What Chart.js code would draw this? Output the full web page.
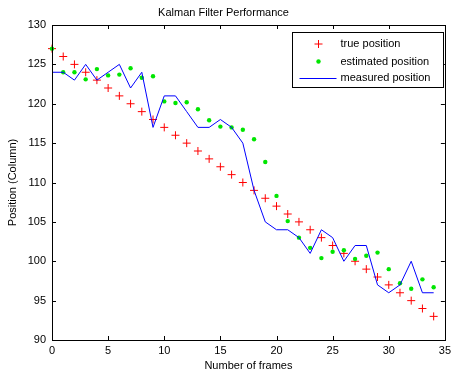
<!DOCTYPE html>
<html>
<head>
<meta charset="utf-8">
<script src="https://cdn.jsdelivr.net/npm/chart.js@4/dist/chart.umd.min.js"></script>
<style>
  html, body { margin: 0; padding: 0; background: #fff; }
  #wrap { width: 455px; height: 374px; }
</style>
</head>
<body>
<div id="wrap"><canvas id="c" width="455" height="374"></canvas></div>
<script>
// Frame index along the x axis
const frames = [0,1,2,3,4,5,6,7,8,9,10,11,12,13,14,15,16,17,18,19,20,21,22,23,24,25,26,27,28,29,30,31,32,33,34];
// Ground-truth column position per frame
const truePosition = [127,126,125,124,123,122,121,120,119,118,117,116,115,114,113,112,111,110,109,108,107,106,105,104,103,102,101,100,99,98,97,96,95,94,93];
// Kalman filter estimate per frame
const estimatedPosition = [127,124,124,123.1,124.4,123.6,123.7,124.5,123.3,123.5,120.3,120.1,120.2,119.3,117.9,117.1,117.0,116.7,115.5,112.6,108.3,105.1,103.0,101.7,100.4,101.2,101.4,100.3,100.7,101.1,99.0,97.2,96.5,97.7,96.7];
// Noisy measurement per frame
const measuredPosition = [124,124,123,125,123,124,125,122,124,117,121,121,119,117,117,118,117,115,109,105,104,104,103,101,104,103,100,102,102,97,96,97,100,96,96];
// Axis ticks
const xTicks = [0,5,10,15,20,25,30,35];
const yTicks = [90,95,100,105,110,115,120,125,130];

const FONT = 'Liberation Sans, Arial, Helvetica, sans-serif';
const pts = (ys) => frames.map((x, i) => ({ x: x, y: ys[i] }));

// Axes box with inward tick marks on all four sides
const axesBox = {
  id: 'axesBox',
  afterDatasetsDraw(chart) {
    const { ctx, chartArea: a, scales } = chart;
    const len = 4;
    ctx.save();
    ctx.strokeStyle = '#000';
    ctx.lineWidth = 1;
    ctx.beginPath();
    xTicks.forEach(v => {
      const px = Math.round(scales.x.getPixelForValue(v)) + 0.5;
      ctx.moveTo(px, a.bottom); ctx.lineTo(px, a.bottom - len);
      ctx.moveTo(px, a.top); ctx.lineTo(px, a.top + len);
    });
    yTicks.forEach(v => {
      const py = Math.round(scales.y.getPixelForValue(v)) + 0.5;
      ctx.moveTo(a.left, py); ctx.lineTo(a.left + len, py);
      ctx.moveTo(a.right, py); ctx.lineTo(a.right - len, py);
    });
    ctx.stroke();
    ctx.strokeRect(Math.round(a.left) + 0.5, Math.round(a.top) + 0.5,
                   Math.round(a.right - a.left), Math.round(a.bottom - a.top));
    ctx.restore();
  }
};

// Boxed legend in the upper-right corner of the axes
const boxLegend = {
  id: 'boxLegend',
  afterDraw(chart) {
    const { ctx, chartArea: a } = chart;
    const w = 151, h = 55;
    const x0 = Math.round(a.right - w - 2) + 0.5, y0 = Math.round(a.top + 7) + 0.5;
    ctx.save();
    ctx.fillStyle = '#fff';
    ctx.fillRect(x0, y0, w, h);
    ctx.strokeStyle = '#000';
    ctx.lineWidth = 1;
    ctx.strokeRect(x0, y0, w, h);
    ctx.font = '11px ' + FONT;
    ctx.textBaseline = 'middle';
    ctx.textAlign = 'left';
    const rowY = [11.5, 29, 45.5];
    chart.data.datasets.forEach((ds, i) => {
      const cy = y0 + rowY[i];
      const sx0 = x0 + 7, sx1 = x0 + 44, cx = x0 + 26;
      ctx.fillStyle = ds.backgroundColor;
      ctx.strokeStyle = ds.borderColor;
      ctx.lineWidth = ds.borderWidth;
      ctx.beginPath();
      if (ds.showLine) {
        ctx.moveTo(sx0, Math.round(cy) + 0.5);
        ctx.lineTo(sx1, Math.round(cy) + 0.5);
        ctx.stroke();
      } else if (ds.pointStyle === 'cross') {
        const r = ds.pointRadius;
        ctx.moveTo(cx - r, cy); ctx.lineTo(cx + r, cy);
        ctx.moveTo(cx, cy - r); ctx.lineTo(cx, cy + r);
        ctx.stroke();
      } else {
        ctx.arc(cx, cy, ds.pointRadius, 0, Math.PI * 2);
        ctx.fill();
      }
      ctx.fillStyle = '#000';
      ctx.fillText(ds.label, x0 + 48, cy);
    });
    ctx.restore();
  }
};

new Chart(document.getElementById('c'), {
  type: 'scatter',
  data: {
    datasets: [
      {
        label: 'true position',
        data: pts(truePosition),
        order: 3,
        pointStyle: 'cross',
        pointRadius: 4,
        borderColor: '#ff0000',
        backgroundColor: '#ff0000',
        borderWidth: 1,
        showLine: false,
        clip: false
      },
      {
        label: 'estimated position',
        data: pts(estimatedPosition),
        order: 2,
        pointStyle: 'circle',
        pointRadius: 2.2,
        borderColor: '#00e600',
        backgroundColor: '#00e600',
        borderWidth: 0,
        showLine: false,
        clip: false
      },
      {
        label: 'measured position',
        data: pts(measuredPosition),
        order: 1,
        pointRadius: 0,
        borderColor: '#0000ff',
        backgroundColor: '#0000ff',
        borderWidth: 1,
        showLine: true,
        tension: 0,
        clip: false
      }
    ]
  },
  options: {
    responsive: false,
    animation: false,
    devicePixelRatio: 1,
    layout: { padding: { left: 0, right: 8, top: 0, bottom: 0 } },
    plugins: {
      legend: { display: false },
      tooltip: { enabled: false },
      title: {
        display: true,
        text: 'Kalman Filter Performance',
        color: '#000',
        font: { family: FONT, size: 11, weight: 'normal' },
        padding: { top: 6, bottom: 5.8 }
      }
    },
    scales: {
      x: {
        type: 'linear',
        min: 0, max: 35,
        afterFit: s => { s.height = 34; },
        afterBuildTicks: s => { s.ticks = xTicks.map(v => ({ value: v })); },
        grid: { display: false, drawTicks: false },
        border: { display: false },
        ticks: { color: '#000', padding: 4, maxRotation: 0, font: { family: FONT, size: 11 } },
        title: {
          display: true, text: 'Number of frames', color: '#000',
          font: { family: FONT, size: 11 }, padding: { top: 0, bottom: 1.4 }
        }
      },
      y: {
        type: 'linear',
        min: 90, max: 130,
        afterFit: s => { s.width = 52; },
        afterBuildTicks: s => { s.ticks = yTicks.map(v => ({ value: v })); },
        grid: { display: false, drawTicks: false },
        border: { display: false },
        ticks: { color: '#000', padding: 6, font: { family: FONT, size: 11 } },
        title: {
          display: true, text: 'Position (Column)', color: '#000',
          font: { family: FONT, size: 11 }, padding: { top: 6.4, bottom: 0 }
        }
      }
    }
  },
  plugins: [axesBox, boxLegend]
});
</script>
</body>
</html>
